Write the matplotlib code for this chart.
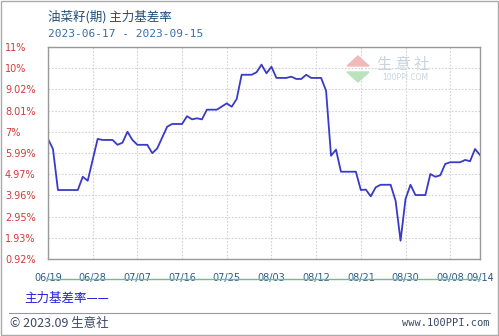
import pandas as pd
import matplotlib.pyplot as plt
import matplotlib.dates as mdates
from matplotlib.lines import Line2D
from matplotlib.patches import Polygon, Rectangle

plt.rcParams['font.family'] = ['Noto Sans CJK SC', 'DejaVu Sans']

# Basis-rate values (date, percent)
dates = ['2023-06-19', '2023-06-20', '2023-06-21', '2023-06-25', '2023-06-26',
         '2023-06-27', '2023-06-29', '2023-06-30', '2023-07-02', '2023-07-03',
         '2023-07-04', '2023-07-05', '2023-07-06', '2023-07-07', '2023-07-09',
         '2023-07-10', '2023-07-11', '2023-07-13', '2023-07-14', '2023-07-16',
         '2023-07-17', '2023-07-18', '2023-07-19', '2023-07-20', '2023-07-21',
         '2023-07-23', '2023-07-25', '2023-07-26', '2023-07-27', '2023-07-28',
         '2023-07-30', '2023-07-31', '2023-08-01', '2023-08-02', '2023-08-03',
         '2023-08-04', '2023-08-06', '2023-08-07', '2023-08-08', '2023-08-09',
         '2023-08-10', '2023-08-11', '2023-08-13', '2023-08-14', '2023-08-15',
         '2023-08-16', '2023-08-17', '2023-08-20', '2023-08-21', '2023-08-22',
         '2023-08-23', '2023-08-24', '2023-08-25', '2023-08-27', '2023-08-28',
         '2023-08-29', '2023-08-30', '2023-08-31', '2023-09-01', '2023-09-03',
         '2023-09-04', '2023-09-05', '2023-09-06', '2023-09-07', '2023-09-08',
         '2023-09-10', '2023-09-11', '2023-09-12', '2023-09-13', '2023-09-14']
values = [6.63, 6.15, 4.20, 4.20, 4.83,
          4.64, 6.63, 6.58, 6.58, 6.35,
          6.45, 6.97, 6.58, 6.35, 6.35,
          5.95, 6.18, 7.21, 7.34, 7.34,
          7.71, 7.56, 7.61, 7.56, 8.02,
          8.02, 8.32, 8.16, 8.53, 9.68,
          9.68, 9.80, 10.16, 9.75, 10.06,
          9.53, 9.53, 9.59, 9.48, 9.48,
          9.68, 9.53, 9.53, 8.92, 5.83,
          6.12, 5.07, 5.07, 4.20, 4.22,
          3.90, 4.33, 4.45, 4.45, 3.69,
          1.79, 3.77, 4.45, 3.96, 3.96,
          4.96, 4.83, 4.90, 5.44, 5.52,
          5.52, 5.63, 5.57, 6.15, 5.86]

y_labels = ['0.92%', '1.93%', '2.95%', '3.96%', '4.97%', '5.99%',
            '7%', '8.01%', '9.02%', '10%', '11%']
x_labels = ['06/19', '06/28', '07/07', '07/16', '07/25', '08/03',
            '08/12', '08/21', '08/30', '09/08', '09/14']

x = pd.to_datetime(dates)
x_ticks = pd.to_datetime(['2023-' + s.replace('/', '-') for s in x_labels])

fig = plt.figure(figsize=(4.99, 3.36), dpi=100)
ax = fig.add_axes([48 / 499, 1 - 259 / 336, 432 / 499, 212 / 336])

ax.plot(x, values, color='#3a3ac8', linewidth=1.3)

y_min, y_max = 0.92, 11.0
y_ticks = [y_min + (y_max - y_min) * i / 10 for i in range(11)]
ax.set_ylim(y_min, y_max)
ax.set_xlim(x_ticks[0], x_ticks[-1])

ax.set_yticks(y_ticks)
ax.set_yticklabels(y_labels, ha='left', color='#d03a3a', fontsize=7,
                   family=['DejaVu Sans'])
ax.tick_params(axis='y', length=0, pad=31)

ax.set_xticks(x_ticks)
ax.set_xticklabels(x_labels, color='#2a5a8a', fontsize=7, family=['DejaVu Sans'])
ax.tick_params(axis='x', length=0, pad=10)

ax.grid(True, color='#d2d2d2', linestyle=(0, (1.5, 1.5)), linewidth=0.8)
for s in ax.spines.values():
    s.set_color('#999999')
    s.set_linewidth(1.0)

# Title and date range
fig.text(48 / 499, 1 - 17 / 336, '油菜籽(期) 主力基差率', color='#1f4e79',
         fontsize=9, va='center', ha='left')
fig.text(48 / 499, 1 - 34 / 336, '2023-06-17 - 2023-09-15', color='#3b6ea5',
         fontsize=8, va='center', ha='left', family=['DejaVu Sans Mono'])

# Watermark
fig.text(403 / 499, 1 - 64 / 336, '生 意 社', color='#c9d3dc', fontsize=11,
         ha='center', va='center')
fig.text(405 / 499, 1 - 78 / 336, '100PPI.COM', color='#c9d3dc', fontsize=5.5,
         ha='center', va='center', family=['DejaVu Sans'])
fig.patches.append(Polygon([(347 / 499, 1 - 66 / 336), (369 / 499, 1 - 66 / 336),
                            (358 / 499, 1 - 56 / 336)], closed=True,
                           transform=fig.transFigure, color='#f2b9b9'))
fig.patches.append(Polygon([(347 / 499, 1 - 72 / 336), (369 / 499, 1 - 72 / 336),
                            (358 / 499, 1 - 82 / 336)], closed=True,
                           transform=fig.transFigure, color='#b9e2bd'))

# Green rule under x labels
fig.add_artist(Line2D([47 / 499, 480 / 499], [1 - 279 / 336, 1 - 279 / 336],
                      color='#6cbf8c', linewidth=1.0))

# Legend text
fig.text(24 / 499, 1 - 298 / 336, '主力基差率——', color='#2020d8', fontsize=9,
         ha='left', va='center')

# Footer
fig.add_artist(Line2D([9 / 499, 490 / 499], [1 - 313 / 336, 1 - 313 / 336],
                      color='#999999', linewidth=0.8))
fig.text(10 / 499, 1 - 323 / 336, '© 2023.09 生意社', color='#3a4a66', fontsize=9,
         ha='left', va='center')
fig.text(489 / 499, 1 - 323 / 336, 'www.100PPI.com', color='#3a4a66', fontsize=7.5,
         ha='right', va='center', family=['DejaVu Sans Mono'])

# Outer border
fig.patches.append(Rectangle((0.002, 0.003), 0.995, 0.994, transform=fig.transFigure,
                             fill=False, edgecolor='#aaaaaa', linewidth=1.0))

plt.savefig('out.png', dpi=100)
